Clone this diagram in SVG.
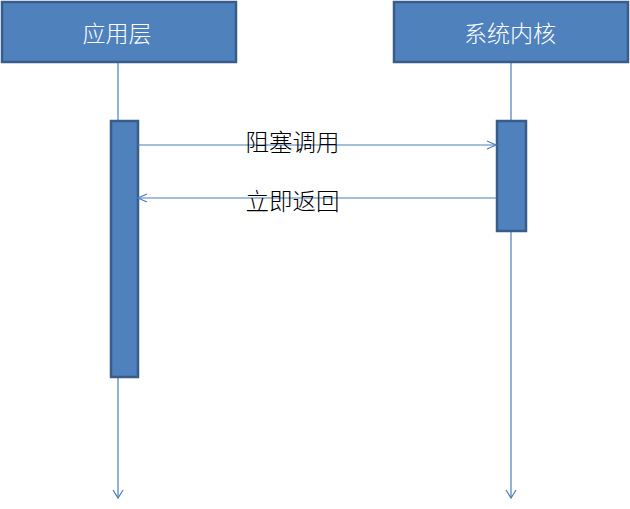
<svg xmlns="http://www.w3.org/2000/svg" width="630" height="509" viewBox="0 0 630 509">
<style>
.box{fill:#4f81bd;stroke:#385d8a;stroke-width:2.5}
.act{fill:#4f81bd;stroke:#385d8a;stroke-width:2.5}
.line{stroke:#4a7ebb;stroke-width:1.2;fill:none}
.head{stroke:#4a7ebb;stroke-width:1.2;fill:none}
.ht{font-family:"Noto Sans CJK SC","Liberation Sans",sans-serif;font-size:23px;font-weight:300;fill:#ffffff;text-anchor:middle;dominant-baseline:central}
.lt{font-family:"Noto Sans CJK SC","Liberation Sans",sans-serif;font-size:23.5px;font-weight:300;fill:#000000;text-anchor:middle;dominant-baseline:central}
</style>
<rect width="630" height="509" fill="#ffffff"/>
<g id="connectors">
<line class="line" x1="118" y1="62" x2="118" y2="498"/>
<polyline class="head" points="113,490 118,498 123,490"/>
<line class="line" x1="511" y1="62" x2="511" y2="498"/>
<polyline class="head" points="506,490 511,498 516,490"/>
</g>
<g id="app-layer">
<rect class="box" x="2" y="2" width="234" height="60"/>
<text class="ht" x="117" y="32">应用层</text>
</g>
<g id="kernel">
<rect class="box" x="394" y="2" width="234" height="60"/>
<text class="ht" x="510" y="32">系统内核</text>
</g>
<g id="app-activation">
<rect class="act" x="111" y="121" width="27" height="256"/>
</g>
<g id="kernel-activation">
<rect class="act" x="497" y="121" width="29" height="110"/>
</g>
<g id="messages">
<line class="line" x1="138" y1="145" x2="496" y2="145"/>
<polyline class="head" points="487,141 496,145 487,149"/>
<line class="line" x1="496" y1="198" x2="138" y2="198"/>
<polyline class="head" points="147,194 138,198 147,202"/>
<text class="lt" x="292.5" y="141">阻塞调用</text>
<text class="lt" x="292.5" y="200">立即返回</text>
</g>
</svg>
